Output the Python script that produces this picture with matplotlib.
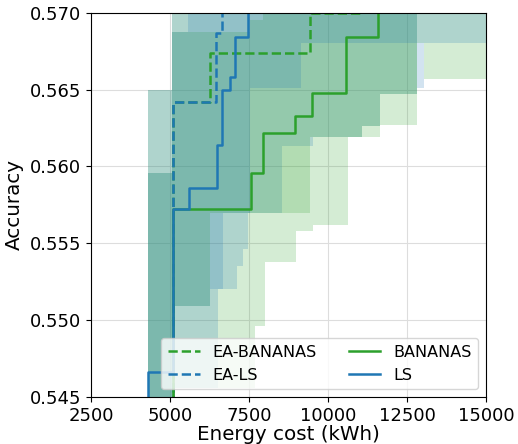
import matplotlib
matplotlib.use("Agg")
import matplotlib.pyplot as plt

# ---- data ----
names = ["EA-BANANAS", "EA-LS", "BANANAS", "LS"]
colors = ["#2ca02c", "#1f77b4", "#2ca02c", "#1f77b4"]
styles = ["--", "--", "-", "-"]

# best-so-far accuracy lines
ea_bananas_x = [2500, 5110, 6266, 9431, 11046, 15000]
ea_bananas_y = [0.540, 0.5642, 0.5674, 0.5700, 0.5710, 0.5720]
ea_ls_x = [2500, 5110, 6446, 6636, 15000]
ea_ls_y = [0.540, 0.5642, 0.5687, 0.5710, 0.5720]
bananas_x = [2500, 5095, 7564, 7953, 8957, 9485, 10571, 11593, 15000]
bananas_y = [0.540, 0.5572, 0.5596, 0.5622, 0.5633, 0.5648, 0.5684, 0.5710, 0.5720]
ls_x = [2500, 4313, 5095, 5602, 6478, 6656, 6900, 7067, 7479, 15000]
ls_y = [0.540, 0.5466, 0.5572, 0.5586, 0.5614, 0.5650, 0.5658, 0.5684, 0.5710, 0.5720]

# spread bands
ea_bananas_bx = [4300, 5064, 5159, 7691, 8007, 8988, 9526, 10634, 11647, 12818, 13040, 15000]
ea_bananas_lo = [0.530, 0.530, 0.5456, 0.5496, 0.5538, 0.5558, 0.5562, 0.5619, 0.5627, 0.5680, 0.5657, 0.5657]
ea_bananas_hi = [0.565, 0.580, 0.580, 0.580, 0.580, 0.580, 0.580, 0.580, 0.580, 0.580, 0.580, 0.580]

ea_ls_bx = [4300, 5064, 5159, 6520, 7121, 7300, 7469, 8545, 9526, 11077, 11647, 12818, 13040, 15000]
ea_ls_lo = [0.530, 0.530, 0.5456, 0.5520, 0.5535, 0.5546, 0.5570, 0.5613, 0.5619, 0.5626, 0.5647, 0.5651, 0.5680, 0.5680]
ea_ls_hi = [0.565, 0.580, 0.580, 0.580, 0.580, 0.580, 0.580, 0.580, 0.580, 0.580, 0.580, 0.580, 0.580, 0.580]

bananas_bx = [4300, 5064, 5159, 6266, 7532, 7944, 9431, 11077, 11647, 12818, 15000]
bananas_lo = [0.530, 0.530, 0.5509, 0.5570, 0.5570, 0.5570, 0.5619, 0.5626, 0.5647, 0.5710, 0.5710]
bananas_hi = [0.5596, 0.56875, 0.56875, 0.56875, 0.5695, 0.580, 0.580, 0.580, 0.580, 0.580, 0.580]

ls_bx = [4300, 5064, 5159, 5570, 6266, 6678, 7532, 9131, 12818, 15000]
ls_lo = [0.530, 0.530, 0.5509, 0.5509, 0.5520, 0.5570, 0.5651, 0.5680, 0.5710, 0.5710]
ls_hi = [0.5596, 0.56875, 0.56875, 0.580, 0.580, 0.580, 0.580, 0.580, 0.580, 0.580]

xticks = [2500, 5000, 7500, 10000, 12500, 15000]
yticks = [0.545, 0.550, 0.555, 0.560, 0.565, 0.570]

lines = [(ea_bananas_x, ea_bananas_y), (ea_ls_x, ea_ls_y), (bananas_x, bananas_y), (ls_x, ls_y)]
bands = [(ea_bananas_bx, ea_bananas_lo, ea_bananas_hi), (ea_ls_bx, ea_ls_lo, ea_ls_hi),
         (bananas_bx, bananas_lo, bananas_hi), (ls_bx, ls_lo, ls_hi)]

fig = plt.figure(figsize=(5.18, 4.44), dpi=100)
ax = fig.add_axes([0.1757, 0.1059, 0.7625, 0.8655])

handles = []
for name, c, ls_, (lx, ly), (bx, lo, hi) in zip(names, colors, styles, lines, bands):
    ax.fill_between(bx, lo, hi, step="post", color=c, alpha=0.2, linewidth=0)
    h, = ax.plot(lx, ly, drawstyle="steps-post", color=c, linestyle=ls_, lw=1.8, label=name)
    handles.append(h)

ax.set_xlim(2500, 15000)
ax.set_ylim(0.545, 0.570)
ax.set_xticks(xticks)
ax.set_yticks(yticks)
ax.tick_params(labelsize=13)
ax.grid(True, color="#dddddd", lw=0.8)
ax.set_axisbelow(True)
ax.set_xlabel("Energy cost (kWh)", fontsize=14.3, labelpad=0.5)
ax.set_ylabel("Accuracy", fontsize=14.3)
ax.legend(handles=handles, ncol=2, loc="lower right", fontsize=11.5)

fig.savefig("out.png", dpi=100)
